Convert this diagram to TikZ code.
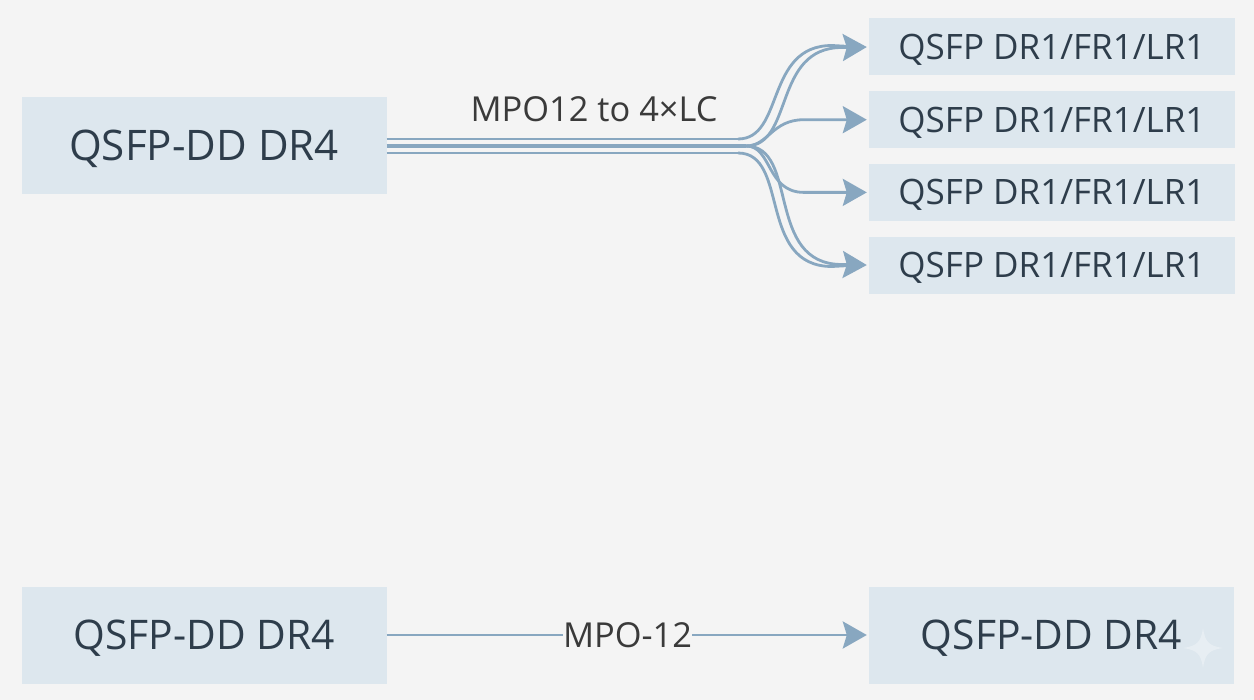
\documentclass[tikz,border=0pt]{standalone}
\usepackage{fontspec}
\setmainfont{Open Sans}
\usetikzlibrary{arrows.meta,positioning}
\definecolor{pagegray}{HTML}{F4F4F4}
\definecolor{boxblue}{HTML}{DDE7EE}
\definecolor{fibreblue}{HTML}{88A7C0}
\definecolor{boxtext}{HTML}{2E3D4B}
\definecolor{labeltext}{HTML}{3A3A3A}
\tikzset{
  bigbox/.style={fill=boxblue,text=boxtext,minimum width=365pt,minimum height=97pt,inner sep=0pt,text height=29.5pt,text depth=0pt,font=\fontsize{#1}{#1}\selectfont},
  smallbox/.style={fill=boxblue,text=boxtext,minimum width=366pt,minimum height=57pt,inner sep=0pt,text height=25pt,text depth=0pt,font=\fontsize{35}{35}\selectfont},
  fibre/.style={draw=fibreblue,line width=2.8pt},
  tipped/.style={fibre,-{Stealth[length=24pt,width=27pt,inset=4pt]},shorten >=2pt},
  fanbend/.style={out=0,in=180,out looseness=.9,in looseness=1.3},
  cablelabel/.style={text=labeltext,inner sep=0pt,text height=24.5pt,text depth=0pt,font=\fontsize{34.4}{34.4}\selectfont}
}
\begin{document}
\begin{tikzpicture}[x=1pt,y=-1pt]
\useasboundingbox (0,0) rectangle (1254,700);
\fill[pagegray] (0,0) rectangle (1254,700);

% top row
\node [bigbox=42.1] (dr_top) at (204,145.5) {QSFP-DD DR4};
\node [smallbox] (lr_one) at (1052,47) {QSFP DR1/FR1/LR1};
\node [smallbox, below=15.3pt of lr_one] (lr_two) {QSFP DR1/FR1/LR1};
\node [smallbox, below=15.3pt of lr_two] (lr_three) {QSFP DR1/FR1/LR1};
\node [smallbox, below=15.3pt of lr_three] (lr_four) {QSFP DR1/FR1/LR1};
\node [cablelabel] (cable_top) at (594,109) {MPO12 to 4×LC};

\coordinate (fork_up) at (738,139);
\coordinate (fork_mid) at (746,146);
\coordinate (fork_down) at (738,153);

\draw [fibre] (dr_top.east |- fork_up) -- (fork_up);
\draw [fibre,line width=3.4pt] (dr_top.east |- fork_mid) -- (fork_mid);
\draw [fibre] (dr_top.east |- fork_down) -- (fork_down);

\draw [fibre] (fork_up) to [fanbend] (832,45.5) -- (850,46.5);
\draw [tipped] (fork_mid) to [fanbend] (842,47.5) -- (lr_one.west);
\draw [tipped] (fork_mid) to [fanbend] (804,119.7) -- (lr_two.west);
\draw [tipped] (fork_mid) to [fanbend] (804,192.4) -- (lr_three.west);
\draw [tipped] (fork_mid) to [fanbend] (842,264.5) -- (lr_four.west);
\draw [fibre] (fork_down) to [fanbend] (832,266.5) -- (850,265.5);

% bottom row
\node [bigbox=40.8] (dr_left) at (204,635) {QSFP-DD DR4};
\node [bigbox=40.8] (dr_right) at (1051.5,635) {QSFP-DD DR4};
\node [cablelabel] (cable_bottom) at (627.5,635) {MPO-12};

\draw [fibre] (dr_left) -- (cable_bottom);
\draw [tipped] (cable_bottom) -- (dr_right);

% faint sparkle in the corner
\fill [white,opacity=.3] (1203,628) .. controls (1205,642) and (1209,646) .. (1223,648)
  .. controls (1209,650) and (1205,654) .. (1203,668)
  .. controls (1201,654) and (1197,650) .. (1183,648)
  .. controls (1197,646) and (1201,642) .. (1203,628);
\end{tikzpicture}
\end{document}
